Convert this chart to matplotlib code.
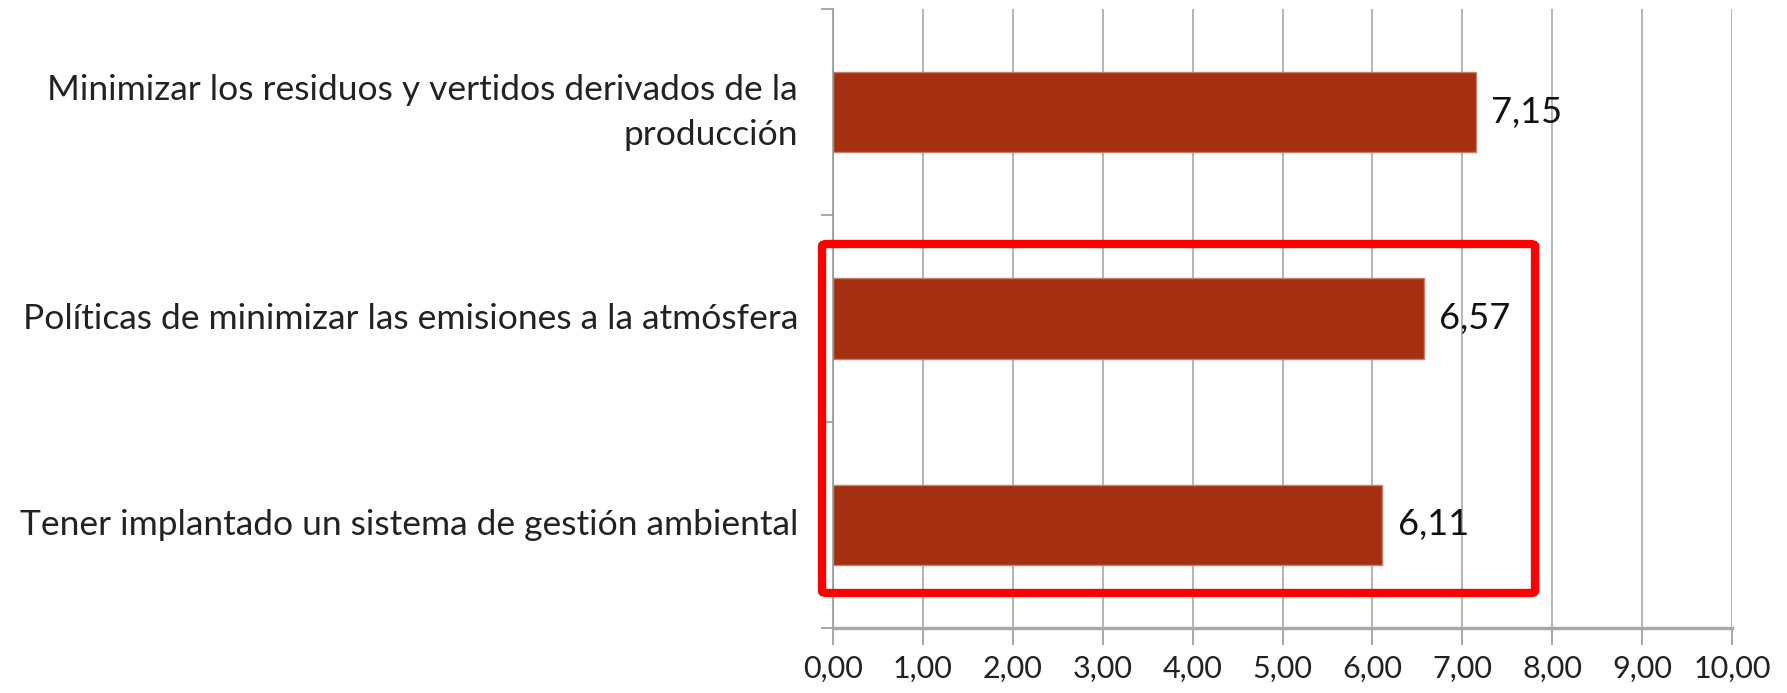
import matplotlib.pyplot as plt
from matplotlib.patches import FancyBboxPatch

# Valoración media de las prácticas ambientales (escala 0-10)
categorias = [
    'Minimizar los residuos y vertidos derivados de la\nproducción',
    'Políticas de minimizar las emisiones a la atmósfera',
    'Tener implantado un sistema de gestión ambiental',
]
valores = [7.15, 6.57, 6.11]
etiquetas_x = ['0,00', '1,00', '2,00', '3,00', '4,00', '5,00',
               '6,00', '7,00', '8,00', '9,00', '10,00']

plt.rcParams['font.family'] = ['Lato', 'DejaVu Sans']

fig = plt.figure(figsize=(17.87, 6.93), dpi=100)
ax = fig.add_axes([833 / 1787, 1 - 628 / 693, 899 / 1787, 619 / 693])

pos = list(range(len(categorias)))
ax.barh(pos, valores, height=0.39, color='#A53011', edgecolor='#C8806E',
        linewidth=1, zorder=3)

for p, v in zip(pos, valores):
    ax.text(v + 0.17, p, f'{v:.2f}'.replace('.', ','), va='center',
            ha='left', fontsize=26, color='#111111', zorder=4)

ax.set_xlim(0, 10)
ax.set_ylim(2.5, -0.5)
ax.set_xticks(range(11))
ax.set_xticklabels(etiquetas_x, fontsize=22, color='#222222')
ax.tick_params(axis='x', length=12, color='#999999', width=1.2, pad=7)

# categorías en el eje y con marcas en los límites
ax.set_yticks([-0.5, 0.5, 1.5, 2.5])
ax.set_yticklabels([])
ax.tick_params(axis='y', length=9, color='#999999', width=1.2)
for p, c in zip(pos, categorias):
    ax.text(-35 / 90, p, c, ha='right', va='center', fontsize=25.5,
            color='#222222', multialignment='right', linespacing=1.5)

ax.grid(axis='x', color='#A0A0A0', linewidth=1.1, zorder=0)
for s in ['top', 'right']:
    ax.spines[s].set_visible(False)
ax.spines['left'].set_color('#999999')
ax.spines['left'].set_linewidth(1.2)
ax.spines['bottom'].set_color('#A8A8A8')
ax.spines['bottom'].set_linewidth(2.5)

# recuadro rojo resaltando las dos últimas prácticas
x0, x1 = 822 / 1787, 1535 / 1787
y0, y1 = 1 - 593 / 693, 1 - 244 / 693
caja = FancyBboxPatch((x0, y0), x1 - x0, y1 - y0,
                      boxstyle='round,pad=0,rounding_size=0.003',
                      transform=fig.transFigure, fill=False,
                      edgecolor='#FF0000', linewidth=6, zorder=10)
fig.patches.append(caja)

fig.savefig('out.png', dpi=100)
